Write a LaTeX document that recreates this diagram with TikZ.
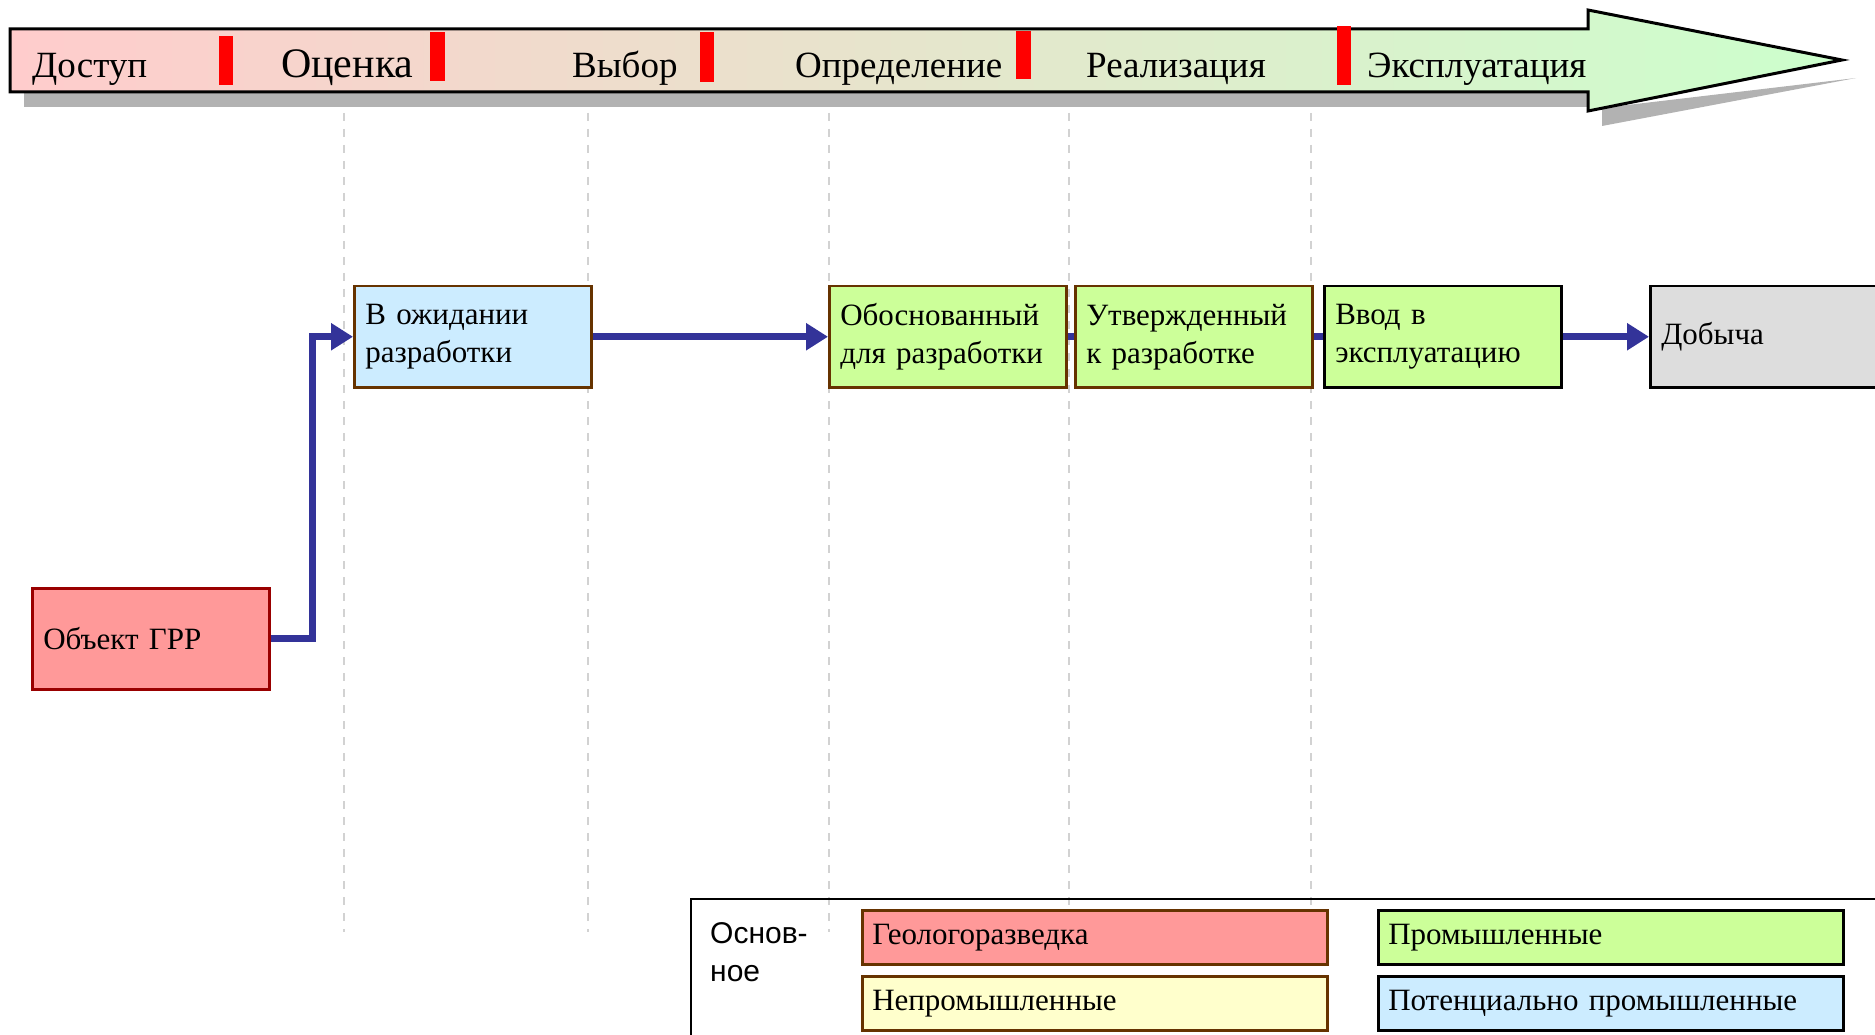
\documentclass[tikz,border=0pt]{standalone}
\usepackage{fontspec}
\setmainfont{Liberation Serif}
\newfontfamily\legendsans{Liberation Sans}
\usetikzlibrary{arrows.meta}

\definecolor{flowblue}{HTML}{333399}
\definecolor{brownline}{HTML}{663300}
\definecolor{grrfill}{HTML}{FF9999}
\definecolor{grrline}{HTML}{990000}
\definecolor{potfill}{HTML}{CCECFF}
\definecolor{prodfill}{HTML}{CCFF99}
\definecolor{nonfill}{HTML}{FFFFCC}
\definecolor{minefill}{HTML}{DDDDDD}
\definecolor{stageleft}{HTML}{FFCCCC}
\definecolor{stageright}{HTML}{CCFFCC}

\begin{document}
\begin{tikzpicture}[x=1pt, y=-1pt,
    phase/.style={anchor=base west, inner sep=0pt, font=\fontsize{37}{40}\selectfont},
    gate/.style={fill=red, draw=none},
    milestone/.style={gray!35, line width=1.5pt, dash pattern=on 8pt off 8pt},
    resbox/.style={rectangle, anchor=north west, line width=2.5pt, draw=brownline,
        minimum width=237pt, minimum height=101pt, text width=215pt, inner xsep=10pt,
        align=left, font=\fontsize{31}{38}\selectfont},
    keybox/.style={resbox, minimum width=465pt, minimum height=54pt, text width=445pt},
    flow/.style={flowblue, line width=7pt, line join=miter},
    flowarrow/.style={flow, -{Triangle[length=22pt, width=26pt]}}]

    \useasboundingbox (0,0) rectangle (1875,1035);

    % Stage arrow with shadow
    \fill[black!30] (24,92) -- (1602,92) -- (1602,108) -- (1856,78)
        -- (1602,126) -- (1602,107) -- (24,107) -- cycle;
    \draw[line width=3pt, left color=stageleft, right color=stageright]
        (10,29) -- (1588,29) -- (1588,10) -- (1842,60) -- (1588,111)
        -- (1588,92) -- (10,92) -- cycle;

    % Stage names
    \node[phase] (access) at (32,78) {Доступ};
    \node[phase, font=\fontsize{42}{44}\selectfont] (assess) at (281,78) {Оценка};
    \node[phase] (select) at (572,78) {Выбор};
    \node[phase] (define) at (795,78) {Определение};
    \node[phase] (execute) at (1086,78) {Реализация};
    \node[phase] (operate) at (1367,78) {Эксплуатация};

    % Decision gates
    \fill[gate] (219,36) rectangle (233,85);
    \fill[gate] (430,32) rectangle (445,81);
    \fill[gate] (700,32) rectangle (714,82);
    \fill[gate] (1016,31) rectangle (1031,79);
    \fill[gate] (1337,26) rectangle (1351,85);

    % Stage borders
    \draw[milestone] (344,113) -- (344,932);
    \draw[milestone] (588,113) -- (588,932);
    \draw[milestone] (829,113) -- (829,932);
    \draw[milestone] (1069,113) -- (1069,932);
    \draw[milestone] (1311,113) -- (1311,932);

    % Resource classes
    \node[resbox, fill=grrfill, draw=grrline] (grr) at (31,587) {Объект ГРР};
    \node[resbox, fill=potfill] (wait) at (353,285) {В ожидании\\разработки};
    \node[resbox, fill=prodfill] (justified) at (828,285) {Обоснованный\\для разработки};
    \node[resbox, fill=prodfill] (approved) at (1074,285) {Утвержденный\\к разработке};
    \node[resbox, fill=prodfill, draw=black] (startup) at (1323,285) {Ввод в\\эксплуатацию};
    \node[resbox, fill=minefill, draw=black, minimum width=260pt, text width=238pt] (mining) at (1649,285) {Добыча};

    % Flow between classes
    \draw[flowarrow] (grr.east) -- ++(42,0) |- (wait.west);
    \draw[flowarrow] (wait.east) -- (justified.west);
    \draw[flow] (justified.east) -- (approved.west);
    \draw[flow] (approved.east) -- (startup.west);
    \draw[flowarrow] (startup.east) -- (mining.west);

    % Legend
    \draw[line width=1.5pt] (691,1040) -- (691,899) -- (1880,899);
    \node[anchor=north west, align=left, inner sep=0pt, font=\legendsans\fontsize{30}{38}\selectfont] (basic) at (710,922) {Основ-\\ное};
    \node[keybox, fill=grrfill] (explore) at (861,909) {Геологоразведка};
    \node[keybox, fill=nonfill] (noncomm) at (861,975) {Непромышленные};
    \node[keybox, fill=prodfill, draw=black] (comm) at (1377,909) {Промышленные};
    \node[keybox, fill=potfill, draw=black] (potential) at (1377,975) {Потенциально промышленные};

\end{tikzpicture}
\end{document}
